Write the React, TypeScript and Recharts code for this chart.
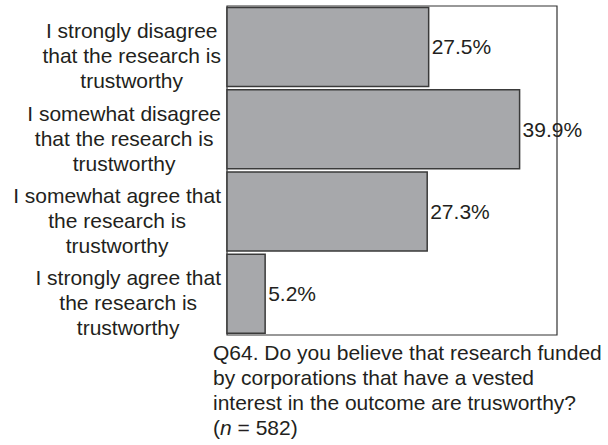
import React from 'react';
import { BarChart, Bar, XAxis, YAxis, LabelList, ReferenceArea } from 'recharts';

const categories = [
  'I strongly disagree\nthat the research is\ntrustworthy',
  'I somewhat disagree\nthat the research is\ntrustworthy',
  'I somewhat agree that\nthe research is\ntrustworthy',
  'I strongly agree that\nthe research is\ntrustworthy',
];
const percents = [27.5, 39.9, 27.3, 5.2];
const captionLines = [
  'Q64. Do you believe that research funded',
  'by corporations that have a vested',
  'interest in the outcome are trusworthy?',
];
const sampleSize = 582;

const data = categories.map((c, i) => ({ name: c, value: percents[i] }));

const FONT = '"Liberation Sans", Arial, Helvetica, sans-serif';
const INK = '#231f20';

let ctx: CanvasRenderingContext2D | null = null;
const textWidth = (s: string) => {
  if (!ctx) ctx = document.createElement('canvas').getContext('2d');
  if (!ctx) return s.length * 10;
  ctx.font = `21px ${FONT}`;
  return ctx.measureText(s).width;
};

// multi-line label, lines centred inside a block that is right-aligned near the axis
const CategoryTick = (props: any) => {
  const { y, payload } = props;
  const lines: string[] = String(payload.value).split('\n');
  const maxW = Math.max(...lines.map(textWidth));
  const cx = 221 - maxW / 2;
  const lh = 25;
  const top = y + 9 - ((lines.length - 1) * lh) / 2;
  return (
    <text x={cx} y={top} textAnchor="middle" fontSize={21} fill={INK} fontFamily={FONT}>
      {lines.map((l, i) => (
        <tspan key={i} x={cx} y={top + i * lh} dy="0.35em">
          {l}
        </tspan>
      ))}
    </text>
  );
};

export default function App() {
  return (
    <div style={{ position: 'absolute', left: 0, top: 0, width: 608, height: 445, background: '#fff' }}>
      <BarChart
        width={608}
        height={445}
        data={data}
        layout="vertical"
        margin={{ top: 6, right: 51, bottom: 110, left: 0 }}
        barCategoryGap={1.5}
      >
        <XAxis type="number" domain={[0, 45]} hide />
        <YAxis
          type="category"
          dataKey="name"
          width={227}
          tickLine={false}
          axisLine={false}
          tick={<CategoryTick />}
          interval={0}
        />
        <ReferenceArea x1={0} x2={45} fill="none" stroke="#333" strokeWidth={1.2} />
        <Bar dataKey="value" fill="#a7a8ab" stroke="#3a3a3a" strokeWidth={1.5} isAnimationActive={false}>
          <LabelList
            dataKey="value"
            position="right"
            offset={3}
            formatter={(v: any) => `${v}%`}
            style={{ fontSize: 21, fill: INK, fontFamily: FONT }}
          />
        </Bar>
      </BarChart>
      <div
        style={{
          position: 'absolute',
          left: 213,
          top: 340,
          fontFamily: FONT,
          fontSize: 21,
          lineHeight: '25px',
          color: INK,
          whiteSpace: 'nowrap',
        }}
      >
        {captionLines.map((l, i) => (
          <div key={i}>{l}</div>
        ))}
        <div>
          (<i>n</i> = {sampleSize})
        </div>
      </div>
    </div>
  );
}
